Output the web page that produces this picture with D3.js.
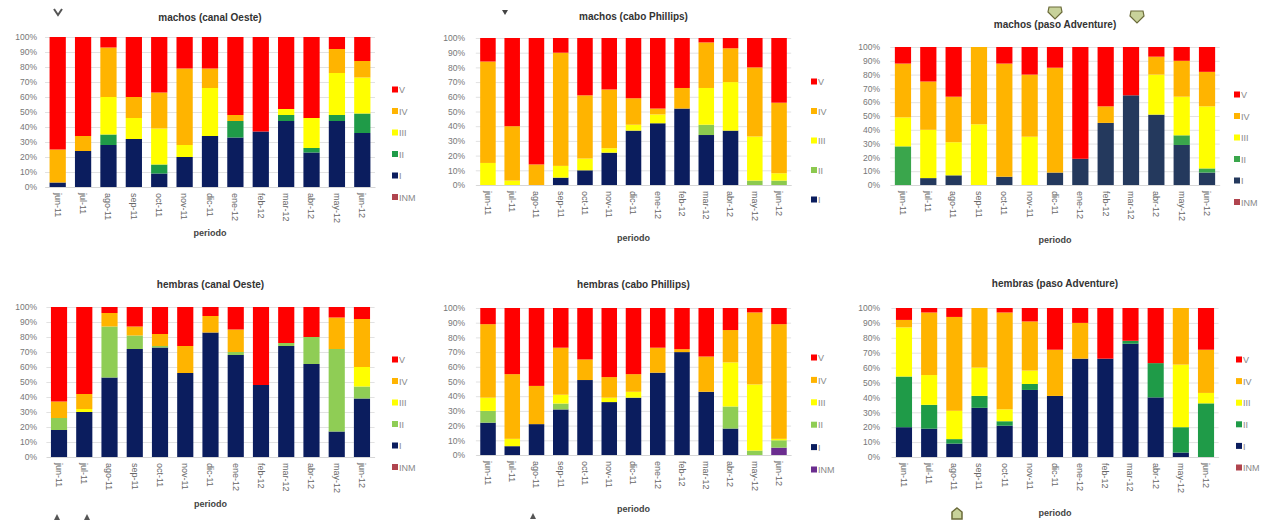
<!DOCTYPE html>
<html>
<head>
<meta charset="utf-8">
<script src="https://cdn.jsdelivr.net/npm/d3@7"></script>
<style>
  body { margin: 0; background: #fff; }
  svg { font-family: Arial, "Liberation Sans", sans-serif; }
</style>
</head>
<body>
<svg width="1279" height="525"></svg>
<script>
var months = ['jun-11', 'jul-11', 'ago-11', 'sep-11', 'oct-11', 'nov-11', 'dic-11',
              'ene-12', 'feb-12', 'mar-12', 'abr-12', 'may-12', 'jun-12'];
var stages = ['INM', 'I', 'II', 'III', 'IV', 'V'];
var yTicks = [0, 0.1, 0.2, 0.3, 0.4, 0.5, 0.6, 0.7, 0.8, 0.9, 1];

// machos (canal Oeste)
var mOesteINM = [0, 0, 0, 0, 0, 0, 0, 0, 0, 0, 0, 0, 0];
var mOesteI   = [3, 24, 28, 32, 9, 20, 34, 33, 37, 44, 23, 44, 36];
var mOesteII  = [0, 0, 7, 0, 6, 0, 0, 11, 0, 4, 3, 4, 13];
var mOesteIII = [0, 0, 25, 14, 24, 8, 32, 0, 0, 4, 20, 28, 24];
var mOesteIV  = [22, 10, 33, 14, 24, 51, 13, 4, 0, 0, 0, 16, 11];
var mOesteV   = [75, 66, 7, 40, 37, 21, 21, 52, 63, 48, 54, 8, 16];

// machos (cabo Phillips)
var mCaboINM = [0, 0, 0, 0, 0, 0, 0, 0, 0, 0, 0, 0, 0];
var mCaboI   = [0, 0, 0, 5, 10, 22, 37, 42, 52, 34, 37, 0, 0];
var mCaboII  = [0, 0, 0, 0, 0, 0, 0, 0, 0, 7, 0, 3, 3];
var mCaboIII = [15, 3, 0, 8, 8, 3, 4, 6, 0, 25, 33, 30, 5];
var mCaboIV  = [69, 37, 14, 77, 43, 40, 18, 4, 14, 31, 23, 47, 48];
var mCaboV   = [16, 60, 86, 10, 39, 35, 41, 48, 34, 3, 7, 20, 44];

// machos (paso Adventure)
var mPasoINM = [0, 0, 0, 0, 0, 0, 0, 0, 0, 0, 0, 0, 0];
var mPasoI   = [0, 5, 7, 0, 6, 0, 9, 19, 45, 65, 51, 29, 9];
var mPasoII  = [28, 0, 0, 0, 0, 0, 0, 0, 0, 0, 0, 7, 3];
var mPasoIII = [21, 35, 24, 44, 0, 35, 0, 0, 0, 0, 29, 28, 45];
var mPasoIV  = [39, 35, 33, 56, 82, 45, 76, 0, 12, 0, 13, 26, 25];
var mPasoV   = [12, 25, 36, 0, 12, 20, 15, 81, 43, 35, 7, 10, 18];

// hembras (canal Oeste)
var hOesteINM = [0, 0, 0, 0, 0, 0, 0, 0, 0, 0, 0, 0, 0];
var hOesteI   = [18, 30, 53, 72, 73, 56, 83, 68, 48, 74, 62, 17, 39];
var hOesteII  = [8, 0, 34, 9, 1, 0, 0, 2, 0, 2, 18, 55, 8];
var hOesteIII = [0, 2, 0, 0, 0, 0, 0, 0, 0, 0, 0, 0, 13];
var hOesteIV  = [11, 10, 9, 6, 8, 18, 11, 15, 0, 0, 0, 21, 32];
var hOesteV   = [63, 58, 4, 13, 18, 26, 6, 15, 52, 24, 20, 7, 8];

// hembras (cabo Phillips)
var hCaboINM = [0, 0, 0, 0, 0, 0, 0, 0, 0, 0, 0, 0, 5];
var hCaboI   = [22, 6, 21, 31, 51, 36, 39, 56, 70, 43, 18, 0, 0];
var hCaboII  = [8, 0, 0, 4, 0, 0, 0, 0, 0, 0, 15, 3, 5];
var hCaboIII = [9, 5, 0, 6, 0, 3, 4, 0, 0, 0, 30, 45, 1];
var hCaboIV  = [50, 44, 26, 32, 14, 14, 12, 17, 2, 24, 22, 49, 78];
var hCaboV   = [11, 45, 53, 27, 35, 47, 45, 27, 28, 33, 15, 3, 11];

// hembras (paso Adventure)
var hPasoINM = [0, 0, 0, 0, 0, 0, 0, 0, 0, 0, 0, 0, 0];
var hPasoI   = [20, 19, 9, 33, 21, 45, 41, 66, 66, 76, 40, 3, 0];
var hPasoII  = [34, 16, 3, 8, 3, 4, 0, 0, 0, 2, 23, 17, 36];
var hPasoIII = [33, 20, 19, 19, 8, 9, 0, 0, 0, 0, 0, 42, 7];
var hPasoIV  = [5, 42, 63, 40, 65, 33, 31, 24, 0, 0, 0, 38, 29];
var hPasoV   = [8, 3, 6, 0, 3, 9, 28, 10, 34, 22, 37, 0, 28];

var svg = d3.select('svg');

var panels = [
    {title: 'machos (canal Oeste)', s: [mOesteINM, mOesteI, mOesteII, mOesteIII, mOesteIV, mOesteV],
     x0: 45, x1: 375, top: 37, bot: 187, axisX: 37, titleY: 21, perY: 236,
     legX: 392, legY: 90, legDy: 21.5, inm: true, green: '#1f9b48', navy: '#0b1d5e', inmCol: '#b0444e'},
    {title: 'machos  (cabo Phillips)', s: [mCaboINM, mCaboI, mCaboII, mCaboIII, mCaboIV, mCaboV],
     x0: 475.8, x1: 791.2, top: 38, bot: 185, axisX: 465, titleY: 20, perY: 241,
     legX: 811, legY: 82, legDy: 29.5, inm: false, green: '#8cc94f', navy: '#0b1d5e', inmCol: '#b0444e'},
    {title: 'machos  (paso Adventure)', s: [mPasoINM, mPasoI, mPasoII, mPasoIII, mPasoIV, mPasoV],
     x0: 890.3, x1: 1219.7, top: 47, bot: 185, axisX: 880, titleY: 28, perY: 243,
     legX: 1234, legY: 95, legDy: 21.5, inm: true, green: '#3aa64c', navy: '#24395d', inmCol: '#b0444e'},
    {title: 'hembras (canal Oeste)', s: [hOesteINM, hOesteI, hOesteII, hOesteIII, hOesteIV, hOesteV],
     x0: 46.4, x1: 374.6, top: 307, bot: 457, axisX: 37, titleY: 288, perY: 507,
     legX: 392, legY: 360, legDy: 21.5, inm: true, green: '#8fcd55', navy: '#0b1d5e', inmCol: '#b0444e'},
    {title: 'hembras  (cabo Phillips)', s: [hCaboINM, hCaboI, hCaboII, hCaboIII, hCaboIV, hCaboV],
     x0: 475.9, x1: 791.1, top: 308, bot: 455, axisX: 465, titleY: 288, perY: 512,
     legX: 811, legY: 358, legDy: 22.4, inm: true, green: '#8fcd55', navy: '#0b1d5e', inmCol: '#6b2d8f'},
    {title: 'hembras  (paso Adventure)', s: [hPasoINM, hPasoI, hPasoII, hPasoIII, hPasoIV, hPasoV],
     x0: 891.4, x1: 1218.6, top: 308, bot: 457, axisX: 880, titleY: 287, perY: 516,
     legX: 1236, legY: 360, legDy: 21.6, inm: true, green: '#1f9b48', navy: '#0b1d5e', inmCol: '#b0444e'}
];

for (var i = 0; i < panels.length; i++) {
    drawPanel(panels[i]);
}
drawMarks();

function drawPanel(p) {
    var colors = [p.inmCol, p.navy, p.green, '#ffff00', '#ffb400', '#ff0000'];
    var rows = months.map(function(m, j) {
        var r = {month: m};
        stages.forEach(function(k, n) { r[k] = p.s[n][j]; });
        return r;
    });
    var series = d3.stack().keys(stages).offset(d3.stackOffsetExpand)(rows);

    var x = d3.scaleBand().domain(months).range([p.x0, p.x1]).paddingInner(0.36).paddingOuter(0.18);
    var y = d3.scaleLinear().domain([0, 1]).range([p.bot, p.top]);
    var g = svg.append('g');

    // grid
    g.append('g').selectAll('line').data(yTicks).join('line')
        .attr('x1', p.x0).attr('x2', p.x1)
        .attr('y1', function(d) { return y(d) + 0.5; })
        .attr('y2', function(d) { return y(d) + 0.5; })
        .attr('stroke', '#e2e2e2');

    var yAxis = g.append('g').attr('transform', 'translate(' + p.x0 + ',0)')
        .call(d3.axisLeft(y).tickValues(yTicks).tickFormat(d3.format('.0%')).tickSize(0).tickPadding(p.x0 - p.axisX));
    yAxis.select('.domain').remove();
    yAxis.selectAll('text').attr('fill', '#777').style('font-size', '8.5px');

    g.append('g').selectAll('g').data(series).join('g')
        .attr('fill', function(d, n) { return colors[n]; })
        .selectAll('rect').data(function(d) { return d; }).join('rect')
        .attr('x', function(d) { return x(d.data.month); })
        .attr('width', x.bandwidth())
        .attr('y', function(d) { return y(d[1]); })
        .attr('height', function(d) { return y(d[0]) - y(d[1]); });

    var xAxis = g.append('g').attr('transform', 'translate(0,' + p.bot + ')')
        .call(d3.axisBottom(x).tickSize(0).tickPadding(0));
    xAxis.select('.domain').attr('stroke', '#d6d6d6');
    xAxis.selectAll('text')
        .attr('transform', 'rotate(90)')
        .attr('x', 6).attr('y', 0).attr('dy', '0.35em')
        .attr('text-anchor', 'start')
        .attr('fill', '#666').style('font-size', '9px');

    var mid = (p.x0 + p.x1) / 2;
    g.append('text').attr('x', mid).attr('y', p.titleY).attr('text-anchor', 'middle')
        .style('font-size', '10px').style('font-weight', 'bold').attr('fill', '#333').text(p.title);
    g.append('text').attr('x', mid).attr('y', p.perY).attr('text-anchor', 'middle')
        .style('font-size', '9px').style('font-weight', 'bold').attr('fill', '#444').text('periodo');

    // legend, top down from V
    var leg = stages.slice().reverse().filter(function(k) { return p.inm || k !== 'INM'; });
    var items = g.append('g').selectAll('g').data(leg).join('g')
        .attr('transform', function(d, n) { return 'translate(' + p.legX + ',' + (p.legY + n * p.legDy) + ')'; });
    items.append('rect').attr('x', 0).attr('y', -3.5).attr('width', 6).attr('height', 6)
        .attr('fill', function(d) { return colors[stages.indexOf(d)]; });
    items.append('text').attr('x', 7).attr('dy', '0.35em')
        .style('font-size', '9px').attr('fill', '#888').text(function(d) { return d; });
}

function drawMarks() {
    // small scan marks around the figure
    svg.append('path').attr('d', 'M54,9 L58,15 L62,9').attr('fill', 'none')
        .attr('stroke', '#555').attr('stroke-width', 2);
    svg.append('path').attr('d', 'M502,10 L508,10 L505,15 Z').attr('fill', '#444');
    var ups = [[57, 517], [87, 517], [533, 516]];
    svg.append('g').selectAll('path').data(ups).join('path')
        .attr('d', function(d) { return 'M' + (d[0] - 3) + ',' + (d[1] + 3) + ' L' + d[0] + ',' + (d[1] - 3) + ' L' + (d[0] + 3) + ',' + (d[1] + 3) + ' Z'; })
        .attr('fill', '#555');
    var gems = [[1055, 12], [1137, 16]];
    svg.append('g').selectAll('path').data(gems).join('path')
        .attr('d', function(d) { return 'M' + (d[0] - 6) + ',' + (d[1] - 5) + ' L' + (d[0] + 6) + ',' + (d[1] - 5) + ' L' + (d[0] + 7) + ',' + d[1] + ' L' + d[0] + ',' + (d[1] + 7) + ' L' + (d[0] - 7) + ',' + d[1] + ' Z'; })
        .attr('fill', '#c8d29a').attr('stroke', '#6b6b3a').attr('stroke-width', 1.2);
    svg.append('path').attr('d', 'M957,508 L962,512 L962,519 L952,519 L952,512 Z')
        .attr('fill', '#c8d29a').attr('stroke', '#6b6b3a').attr('stroke-width', 1.5);
}
</script>
</body>
</html>
